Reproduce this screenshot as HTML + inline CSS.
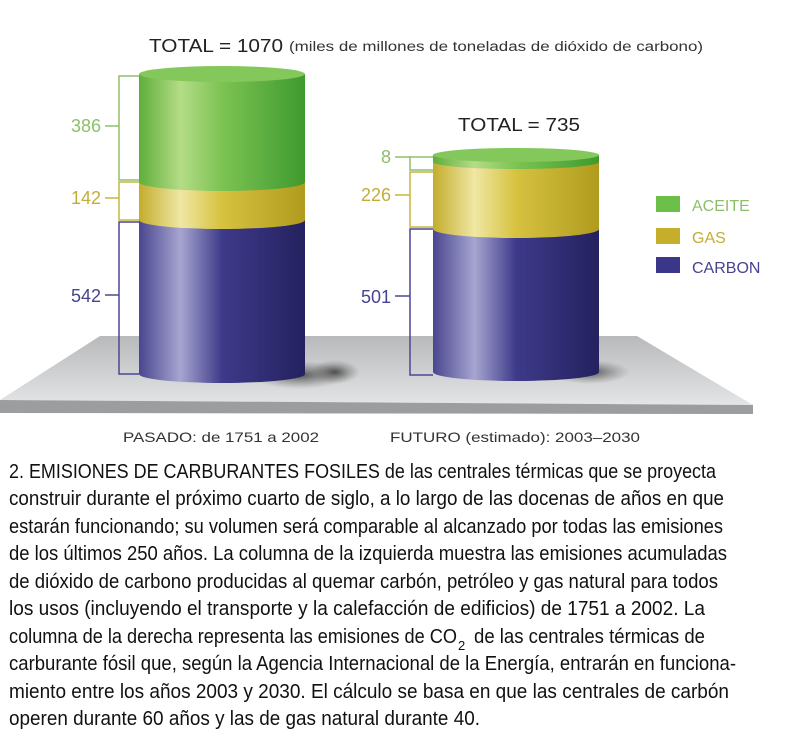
<!DOCTYPE html>
<html><head><meta charset="utf-8"><style>
html,body{margin:0;padding:0;background:#fff;width:795px;height:740px;overflow:hidden}
svg{display:block}
</style></head><body>
<svg width="795" height="740" viewBox="0 0 795 740" xmlns="http://www.w3.org/2000/svg" font-family="Liberation Sans, sans-serif">
<defs>
<linearGradient id="gG" x1="0" x2="1"><stop offset="0" stop-color="#5fae3c"/><stop offset="0.25" stop-color="#b4dc86"/><stop offset="0.5" stop-color="#7cc353"/><stop offset="1" stop-color="#3f9a2e"/></linearGradient>
<linearGradient id="gY" x1="0" x2="1"><stop offset="0" stop-color="#c3ad2d"/><stop offset="0.25" stop-color="#efe7a4"/><stop offset="0.5" stop-color="#d6c23f"/><stop offset="1" stop-color="#b09b1e"/></linearGradient>
<linearGradient id="gB" x1="0" x2="1"><stop offset="0" stop-color="#4a4690"/><stop offset="0.25" stop-color="#a6a5d0"/><stop offset="0.5" stop-color="#3e3a8a"/><stop offset="1" stop-color="#24215f"/></linearGradient>
<linearGradient id="gP" x1="0" x2="0" y1="0" y2="1"><stop offset="0" stop-color="#b8b9bb"/><stop offset="1" stop-color="#e4e5e6"/></linearGradient>
<radialGradient id="sh"><stop offset="0" stop-color="#333" stop-opacity="0.8"/><stop offset="1" stop-color="#666" stop-opacity="0"/></radialGradient>
</defs>
<polygon points="100,336 637,336 753,405 0,400" fill="url(#gP)"/>
<polygon points="0,400 753,405 753,414 0,413" fill="#9c9d9f"/>
<ellipse cx="300" cy="375" rx="50" ry="14" fill="url(#sh)"/>
<ellipse cx="590" cy="372" rx="40" ry="12" fill="url(#sh)"/>
<ellipse cx="335" cy="372" rx="25" ry="12" fill="url(#sh)"/>
<g fill="none" stroke-width="1.5">
<path d="M139,76 H119 V180 H139" stroke="#8dbf6a"/>
<path d="M139,182 H119 V220 H139" stroke="#c9b63e"/>
<path d="M139,222 H119 V374 H139" stroke="#4b4794"/>
<path d="M433,157 H410 V170 H433" stroke="#8dbf6a"/>
<path d="M433,172 H410 V227 H433" stroke="#c9b63e"/>
<path d="M433,229 H410 V375 H433" stroke="#4b4794"/>
<line x1="105" y1="126" x2="119" y2="126" stroke="#8dbf6a"/>
<line x1="105" y1="198" x2="119" y2="198" stroke="#c9b63e"/>
<line x1="105" y1="295" x2="119" y2="295" stroke="#4b4794"/>
<line x1="395" y1="157" x2="410" y2="157" stroke="#8dbf6a"/>
<line x1="395" y1="195" x2="410" y2="195" stroke="#c9b63e"/>
<line x1="395" y1="296" x2="410" y2="296" stroke="#4b4794"/>
</g>
<path d="M139,220 V374 A83,9 0 0 0 305,374 V220 Z" fill="url(#gB)"/>
<path d="M139,182 V220 A83,9 0 0 0 305,220 V182 Z" fill="url(#gY)"/>
<path d="M139,74 V182 A83,9 0 0 0 305,182 V74 Z" fill="url(#gG)"/>
<ellipse cx="222" cy="74" rx="83" ry="8" fill="#84c85c"/>
<path d="M433,229 V372 A83,9 0 0 0 599,372 V229 Z" fill="url(#gB)"/>
<path d="M433,162 V229 A83,9 0 0 0 599,229 V162 Z" fill="url(#gY)"/>
<path d="M433,155 V162 A83,7 0 0 0 599,162 V155 Z" fill="url(#gG)"/>
<ellipse cx="516" cy="155" rx="83" ry="7" fill="#84c85c"/>
<g font-size="18">
<text x="101" y="132" text-anchor="end" fill="#8dbf6a">386</text>
<text x="101" y="204" text-anchor="end" fill="#c3ad3a">142</text>
<text x="101" y="302" text-anchor="end" fill="#47438e">542</text>
<text x="391" y="163" text-anchor="end" fill="#8dbf6a">8</text>
<text x="391" y="201" text-anchor="end" fill="#c3ad3a">226</text>
<text x="391" y="303" text-anchor="end" fill="#47438e">501</text>
</g>
<text x="149" y="52" font-size="18" fill="#222" textLength="134" lengthAdjust="spacingAndGlyphs">TOTAL = 1070</text>
<text x="289" y="51" font-size="13.5" fill="#333" textLength="414" lengthAdjust="spacingAndGlyphs">(miles de millones de toneladas de dióxido de carbono)</text>
<text x="458" y="131" font-size="18" fill="#222" textLength="122" lengthAdjust="spacingAndGlyphs">TOTAL = 735</text>
<rect x="656" y="196" width="24" height="16" fill="#6cc04a"/>
<rect x="656" y="228" width="24" height="16" fill="#c4ae2c"/>
<rect x="656" y="257" width="24" height="16" fill="#3a368a"/>
<g font-size="16">
<text x="692" y="211" fill="#8dbf6a">ACEITE</text>
<text x="692" y="243" fill="#c3ad3a">GAS</text>
<text x="692" y="273" fill="#47438e">CARBON</text>
</g>
<g font-size="14" fill="#333">
<text x="123" y="442" textLength="196" lengthAdjust="spacingAndGlyphs">PASADO: de 1751 a 2002</text>
<text x="390" y="442" textLength="250" lengthAdjust="spacingAndGlyphs">FUTURO (estimado): 2003–2030</text>
</g>
<g font-size="20" fill="#111">
<text x="9" y="478" textLength="707" lengthAdjust="spacingAndGlyphs">2. EMISIONES DE CARBURANTES FOSILES de las centrales térmicas que se proyecta</text>
<text x="9" y="505" textLength="715" lengthAdjust="spacingAndGlyphs">construir durante el próximo cuarto de siglo, a lo largo de las docenas de años en que</text>
<text x="9" y="533" textLength="714" lengthAdjust="spacingAndGlyphs">estarán funcionando; su volumen será comparable al alcanzado por todas las emisiones</text>
<text x="9" y="560" textLength="718" lengthAdjust="spacingAndGlyphs">de los últimos 250 años. La columna de la izquierda muestra las emisiones acumuladas</text>
<text x="9" y="588" textLength="709" lengthAdjust="spacingAndGlyphs">de dióxido de carbono producidas al quemar carbón, petróleo y gas natural para todos</text>
<text x="9" y="615" textLength="696" lengthAdjust="spacingAndGlyphs">los usos (incluyendo el transporte y la calefacción de edificios) de 1751 a 2002. La</text>
<text x="9" y="643" textLength="448" lengthAdjust="spacingAndGlyphs">columna de la derecha representa las emisiones de CO</text>
<text x="458" y="650" font-size="13">2</text>
<text x="474" y="643" textLength="231" lengthAdjust="spacingAndGlyphs">de las centrales térmicas de</text>
<text x="9" y="670" textLength="727" lengthAdjust="spacingAndGlyphs">carburante fósil que, según la Agencia Internacional de la Energía, entrarán en funciona-</text>
<text x="9" y="698" textLength="720" lengthAdjust="spacingAndGlyphs">miento entre los años 2003 y 2030. El cálculo se basa en que las centrales de carbón</text>
<text x="9" y="725" textLength="471" lengthAdjust="spacingAndGlyphs">operen durante 60 años y las de gas natural durante 40.</text>
</g>
</svg>
</body></html>
